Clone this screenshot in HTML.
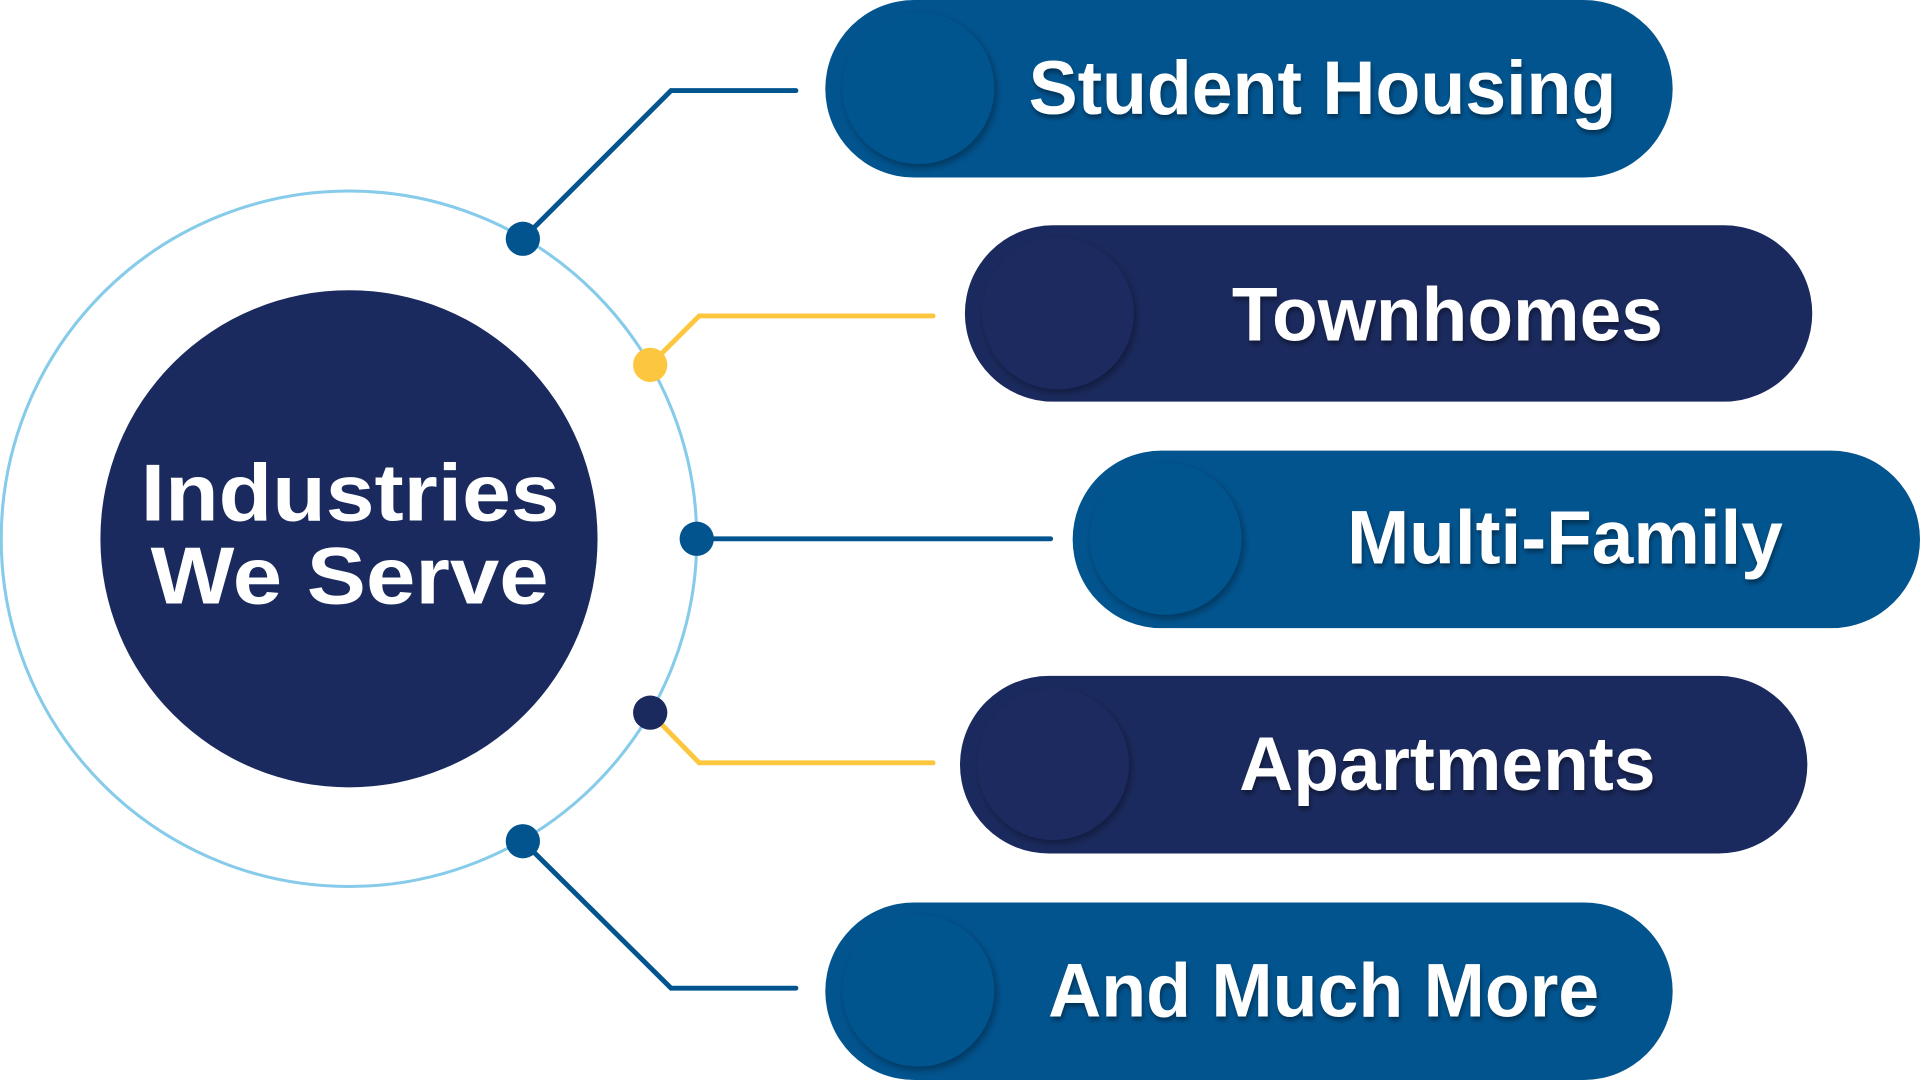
<!DOCTYPE html>
<html><head><style>html,body{margin:0;padding:0;background:#fff;width:1920px;height:1080px;overflow:hidden}</style></head>
<body>
<svg width="1920" height="1080" viewBox="0 0 1568 882" xmlns="http://www.w3.org/2000/svg" preserveAspectRatio="none">
<defs>
<filter id="sh" x="-20%" y="-20%" width="140%" height="140%"><feDropShadow dx="2" dy="3" stdDeviation="3" flood-color="#000" flood-opacity="0.35"/></filter>
<filter id="ts"><feDropShadow dx="1" dy="3" stdDeviation="2" flood-color="#000" flood-opacity="0.4"/></filter>
</defs>
<circle cx="285" cy="440" r="284" fill="none" stroke="#86cbe9" stroke-width="2.5"/>
<circle cx="285" cy="440" r="203" fill="#1b2a5e"/>
<g font-family="Liberation Sans, sans-serif" font-weight="bold" fill="#fff" font-size="66">
<text x="115" y="425" textLength="342" lengthAdjust="spacingAndGlyphs">Industries</text>
<text x="123" y="493" textLength="325" lengthAdjust="spacingAndGlyphs">We Serve</text>
</g>
<g fill="none" stroke-width="4" stroke-linecap="round">
<polyline points="427,195 548,74 650,74" stroke="#02548f"/>
<polyline points="531,298 571,258 762,258" stroke="#fcc73f"/>
<polyline points="569,440 858,440" stroke="#02548f"/>
<polyline points="531,582 571,623 762,623" stroke="#fcc73f"/>
<polyline points="427,687 548,807 650,807" stroke="#02548f"/>
</g>
<circle cx="427" cy="195" r="14" fill="#02548f"/>
<circle cx="531" cy="298" r="14" fill="#fcc73f"/>
<circle cx="569" cy="440" r="14" fill="#02548f"/>
<circle cx="531" cy="582" r="14" fill="#1b2a5e"/>
<circle cx="427" cy="687" r="14" fill="#02548f"/>
<g>
<rect x="674" y="0" width="692" height="145" rx="72.5" fill="#02548f"/>
<circle cx="750" cy="72" r="62" fill="#02548f" filter="url(#sh)"/>
<rect x="788" y="184" width="692" height="144" rx="72" fill="#1b2a5e"/>
<circle cx="864" cy="256" r="62" fill="#1b2a5e" filter="url(#sh)"/>
<rect x="876" y="368" width="692" height="145" rx="72.5" fill="#02548f"/>
<circle cx="952" cy="440" r="62" fill="#02548f" filter="url(#sh)"/>
<rect x="784" y="552" width="692" height="145" rx="72.5" fill="#1b2a5e"/>
<circle cx="860" cy="624" r="62" fill="#1b2a5e" filter="url(#sh)"/>
<rect x="674" y="737" width="692" height="145" rx="72.5" fill="#02548f"/>
<circle cx="750" cy="809" r="62" fill="#02548f" filter="url(#sh)"/>
</g>
<g font-family="Liberation Sans, sans-serif" font-weight="bold" fill="#fff" font-size="62" filter="url(#ts)">
<text x="840" y="93" textLength="480" lengthAdjust="spacingAndGlyphs">Student Housing</text>
<text x="1006" y="278" textLength="352" lengthAdjust="spacingAndGlyphs">Townhomes</text>
<text x="1100" y="460" textLength="356" lengthAdjust="spacingAndGlyphs">Multi-Family</text>
<text x="1012" y="645" textLength="340" lengthAdjust="spacingAndGlyphs">Apartments</text>
<text x="856" y="830" textLength="450" lengthAdjust="spacingAndGlyphs">And Much More</text>
</g>
</svg>
</body></html>
